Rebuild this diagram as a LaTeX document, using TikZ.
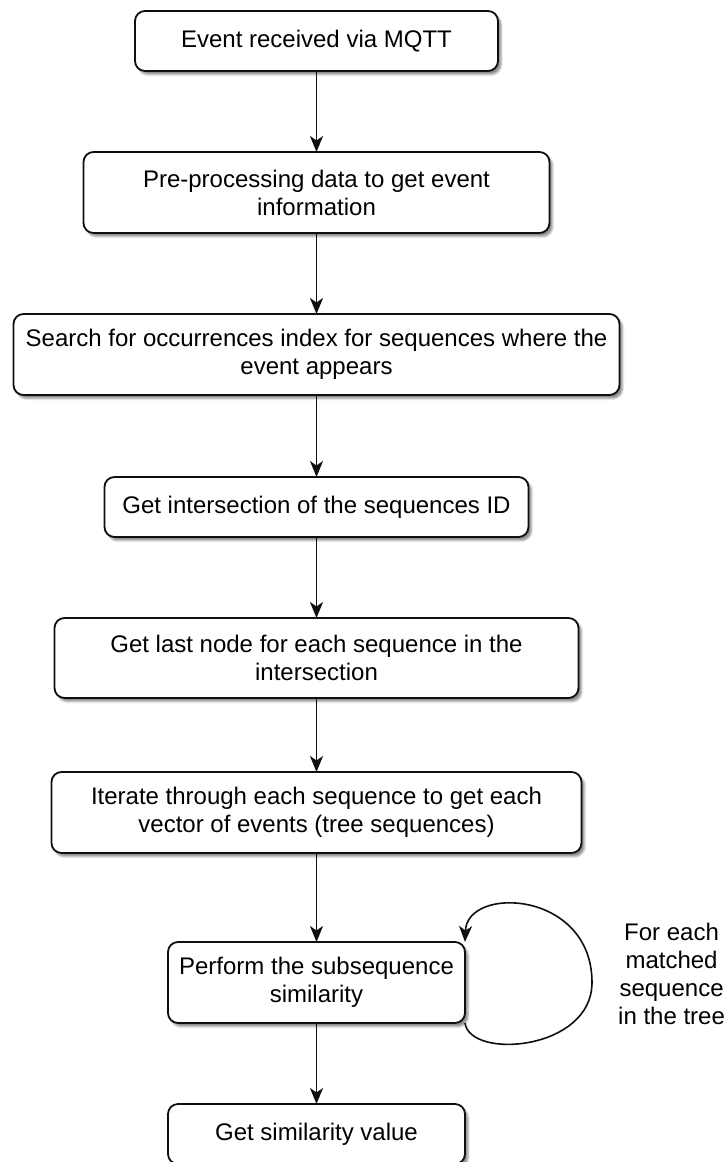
\documentclass[tikz,border=0pt]{standalone}
\usepackage{fontspec}
\setmainfont{Liberation Sans}
\usetikzlibrary{positioning,arrows.meta,shadows.blur}
\definecolor{sLine}{RGB}{15,15,15}
\tikzset{
  stepbox/.style={rectangle, rounded corners=10pt, draw=sLine, line width=1.8pt,
                  fill=white, outer sep=0pt, inner sep=0pt, align=center,
                  blur shadow={shadow xshift=3pt, shadow yshift=-3.5pt,
                               shadow blur radius=2pt, shadow opacity=45},
                  font=\fontsize{24}{28}\selectfont},
  flow/.style={-{Stealth[length=16pt,width=13pt,inset=4.5pt]}, draw=sLine, line width=1.6pt},
  note/.style={align=center, inner sep=0pt, font=\fontsize{24}{28}\selectfont},
}

\begin{document}
\begin{tikzpicture}
  \useasboundingbox (0,0) rectangle (726pt,-1162pt);
  % --- main chain : event -> similarity value -------------------------------
  \node[stepbox, minimum width=363pt, minimum height=60pt] (recv) at (316.5pt,-41pt) {Event received via MQTT};
  \node[stepbox, minimum width=466pt, minimum height=81pt, below=81pt of recv] (prep) {Pre-processing data to get event\\ information};
  \node[stepbox, minimum width=606pt, minimum height=81pt, below=81pt of prep] (search) {Search for occurrences index for sequences where the\\ event appears};
  \node[stepbox, minimum width=424pt, minimum height=60pt, below=82pt of search] (inter) {Get intersection of the sequences ID};
  \node[stepbox, minimum width=524pt, minimum height=80pt, below=81pt of inter] (last) {Get last node for each sequence in the\\ intersection};
  \node[stepbox, minimum width=530pt, minimum height=81pt, below=74pt of last] (iter) {Iterate through each sequence to get each\\ vector of events (tree sequences)};
  \node[stepbox, minimum width=297pt, minimum height=81pt, below=89pt of iter] (sim) {Perform the subsequence\\ similarity};
  \node[stepbox, minimum width=297pt, minimum height=60pt, below=81pt of sim] (simval) {Get similarity value};

  \draw[flow] (recv) -- (prep);
  \draw[flow] (prep) -- (search);
  \draw[flow] (search) -- (inter);
  \draw[flow] (inter) -- (last);
  \draw[flow] (last) -- (iter);
  \draw[flow] (iter) -- (sim);
  \draw[flow] (sim) -- (simval);

  % --- self loop over matched sequences -------------------------------------
  \coordinate[xshift=127pt] (loopR) at (sim.east);
  \draw[flow] (sim.south east) .. controls +(5pt,-37pt) and +(0pt,-68pt) .. (loopR)
              .. controls +(0pt,92pt) and +(2pt,57pt) .. (sim.north east);
  \node[note, right=26pt of loopR, yshift=9pt] (loopnote) {For each\\ matched\\ sequence\\ in the tree};
\end{tikzpicture}
\end{document}
